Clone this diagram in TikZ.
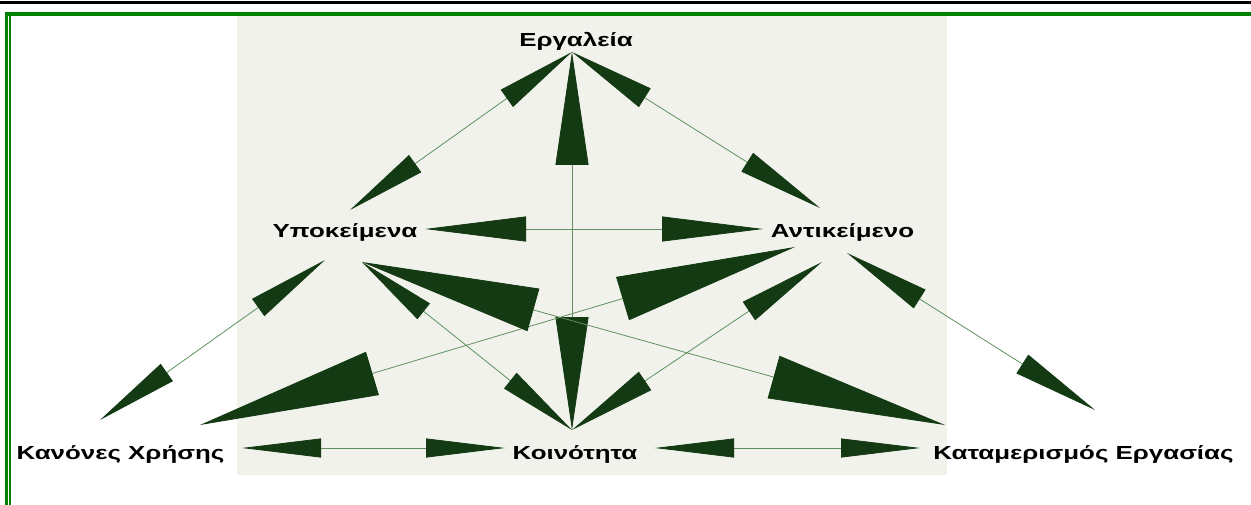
\documentclass[tikz,border=0pt]{standalone}
\usepackage{fontspec}
\usetikzlibrary{arrows.meta}
\newfontfamily\labfont{Liberation Sans}[FakeStretch=1.37]
\definecolor{hd}{RGB}{19,58,19}
\definecolor{ln}{RGB}{95,145,95}
\definecolor{frm}{RGB}{0,128,0}
\definecolor{panel}{RGB}{241,242,236}
\tikzset{
  lab/.style={anchor=base, inner sep=0pt, font=\labfont\bfseries\fontsize{18.9}{20}\selectfont, text=black},
  dbl/.style 2 args={line width=0.8pt, draw=ln,
    arrows={Triangle[length=#1,width=#2,color=hd]-Triangle[length=#1,width=#2,color=hd]}}
}
\begin{document}
\begin{tikzpicture}[x=1pt,y=-1pt]
\useasboundingbox (0,0) rectangle (1251,505);
\fill[white] (0,0) rectangle (1251,505);
% frame
\fill[black] (0,1.5) rectangle (1251,3.8);
\fill[frm] (5,12) rectangle (1251,16);
\fill[frm] (5,12) rectangle (8,505);
\fill[frm] (9.2,16) rectangle (10.6,505);
% panel
\fill[panel] (237,16) rectangle (947,475);
% labels
\node[lab] (E)  at (576,47)  {Εργαλεία};
\node[lab] (Y)  at (345,238) {Υποκείμενα};
\node[lab] (A)  at (842.5,238) {Αντικείμενο};
\node[lab] (K)  at (120.5,459) {Κανόνες Χρήσης};
\node[lab] (Ko) at (575,459) {Κοινότητα};
\node[lab] (Ka) at (1083.5,459) {Καταμερισμός Εργασίας};
% tip points
\coordinate (eT) at (572,52);
\coordinate (yE) at (350,210);
\coordinate (yA) at (425,229);
\coordinate (yK) at (325,260);
\coordinate (yD) at (362,262);
\coordinate (aE) at (820,208);
\coordinate (aY) at (763,229);
\coordinate (aK) at (795,247);
\coordinate (aKo) at (822,262);
\coordinate (aKa) at (847,253);
\coordinate (kY) at (100,420);
\coordinate (kA) at (200,425);
\coordinate (kKo) at (242,448);
\coordinate (koT) at (572,430);
\coordinate (koK) at (505,448);
\coordinate (koKa) at (655,448);
\coordinate (kaY) at (945,425);
\coordinate (kaA) at (1095,410);
\coordinate (kaKo) at (920,448);
% connectors
\draw[dbl={80pt}{21pt}] (eT) -- (yE);
\draw[dbl={113pt}{33pt}] (eT) -- (koT);
\draw[dbl={86pt}{22pt}] (eT) -- (aE);
\draw[dbl={101pt}{25pt}] (yA) -- (aY);
\draw[dbl={82pt}{21pt}] (yK) -- (kY);
\draw[dbl={180pt}{45pt}] (kA) -- (aK);
\draw[dbl={178pt}{44pt}] (yD) -- (kaY);
\draw[dbl={79pt}{20pt}] (yD) -- (koT);
\draw[dbl={88pt}{22pt}] (aKo) -- (koT);
\draw[dbl={86pt}{22pt}] (aKa) -- (kaA);
\draw[dbl={79pt}{19pt}] (kKo) -- (koK);
\draw[dbl={79pt}{19pt}] (koKa) -- (kaKo);
\end{tikzpicture}
\end{document}
